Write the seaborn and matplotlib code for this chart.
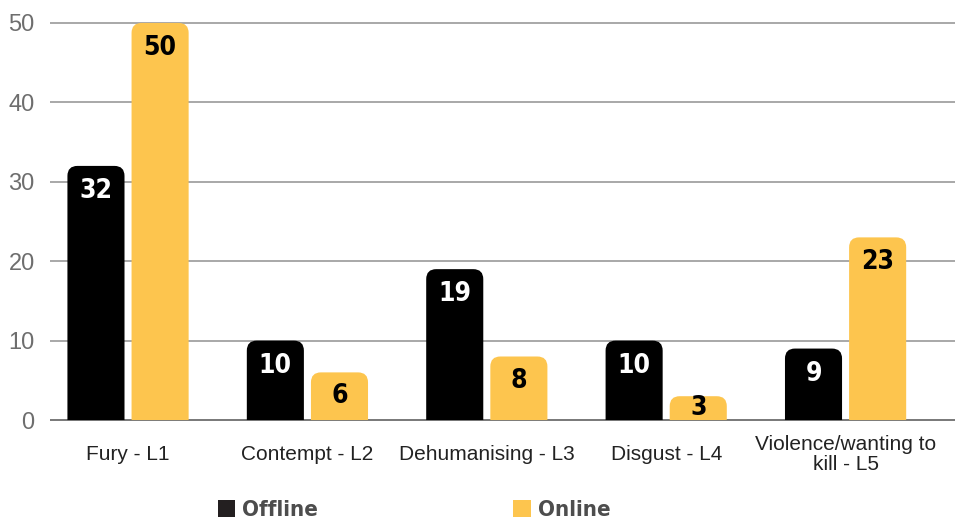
import matplotlib
matplotlib.use("Agg")
import matplotlib.pyplot as plt
from matplotlib.patches import PathPatch, Patch
from matplotlib.path import Path
import seaborn as sns
import pandas as pd

# --- data -------------------------------------------------------------
categories = ["Fury - L1", "Contempt - L2", "Dehumanising - L3",
              "Disgust - L4", "Violence/wanting to\nkill - L5"]
series = ["Offline", "Online"]
offline = [32, 10, 19, 10, 9]
online = [50, 6, 8, 3, 23]
y_ticks = [0, 10, 20, 30, 40, 50]

BLACK = "#000000"
YELLOW = "#FDC54E"
palette = {"Offline": BLACK, "Online": YELLOW}
text_on = {"Offline": "white", "Online": "black"}

df = pd.DataFrame({
    "category": categories * 2,
    "series": [series[0]] * len(offline) + [series[1]] * len(online),
    "value": offline + online,
})

sns.set_theme(style="white")
plt.rcParams["font.family"] = ["Liberation Sans", "DejaVu Sans"]

W, H = 955, 525
fig = plt.figure(figsize=(W / 100, H / 100), dpi=100)
ax = fig.add_axes([50 / W, 101 / H, 905 / W, 405 / H])

sns.barplot(data=df, x="category", y="value", hue="series",
            order=categories, hue_order=series, palette=palette,
            width=0.715, gap=0.11, saturation=1, linewidth=0,
            legend=False, ax=ax)

xlim = (-0.435, 4.61)
ylim = (-0.5, 50.5)
ax.set_xlim(*xlim)
ax.set_ylim(*ylim)

# pixel scale of the data axes, used for rounded corners
px_x = 905 / (xlim[1] - xlim[0])
px_y = 405 / (ylim[1] - ylim[0])
radius_px = 10


def rounded_top(x, w, h):
    """Bar outline with rounded top corners, in data coordinates."""
    rx = radius_px / px_x
    ry = min(radius_px / px_y, h / 2)
    verts = [(x, 0), (x, h - ry), (x, h), (x + rx, h),
             (x + w - rx, h), (x + w, h), (x + w, h - ry),
             (x + w, 0), (x, 0)]
    codes = [Path.MOVETO, Path.LINETO, Path.CURVE3, Path.CURVE3,
             Path.LINETO, Path.CURVE3, Path.CURVE3,
             Path.LINETO, Path.CLOSEPOLY]
    return Path(verts, codes)


# replace each rectangle with a rounded-top bar and add its value label
for container, name in zip(ax.containers, series):
    for rect in list(container.patches):
        x, w, h = rect.get_x(), rect.get_width(), rect.get_height()
        color = rect.get_facecolor()
        rect.set_visible(False)
        ax.add_patch(PathPatch(rounded_top(x, w, h), facecolor=color,
                               edgecolor="none", linewidth=0,
                               zorder=3, clip_on=False))
        ypos = max(h - 25 / px_y, h / 2)
        ax.text(x + w / 2, ypos, f"{h:g}", ha="center", va="center",
                color=text_on[name], fontsize=19, fontweight="bold",
                fontstretch="condensed", family="DejaVu Sans", zorder=4)

# grid and axes styling
for s in ax.spines.values():
    s.set_visible(False)
ax.set_axisbelow(True)
ax.set_yticks(y_ticks)
ax.yaxis.grid(True, color="#9a9a9a", linewidth=1.2)
ax.xaxis.grid(False)
ax.axhline(0, color="#7a7a7a", linewidth=1.4, zorder=1)
ax.set_xlabel("")
ax.set_ylabel("")
ax.tick_params(axis="y", length=0, pad=11, labelsize=17, labelcolor="#6e6e6e")
ax.tick_params(axis="x", length=0, pad=22, labelsize=15, labelcolor="#222222")
plt.setp(ax.get_xticklabels(), va="center", linespacing=1.1)

# legend along the bottom
handles = [Patch(facecolor="#231f20", edgecolor="none"),
           Patch(facecolor=YELLOW, edgecolor="none")]
fig.legend(handles, series, loc="center", bbox_to_anchor=(414 / W, 15 / H),
           ncol=2, frameon=False, handlelength=0.8, handleheight=0.8,
           handletextpad=0.3, columnspacing=8.8, borderaxespad=0,
           labelcolor="#4d4d4d",
           prop={"family": "DejaVu Sans", "stretch": "condensed",
                 "weight": "bold", "size": 16})

fig.savefig("out.png", dpi=100)
